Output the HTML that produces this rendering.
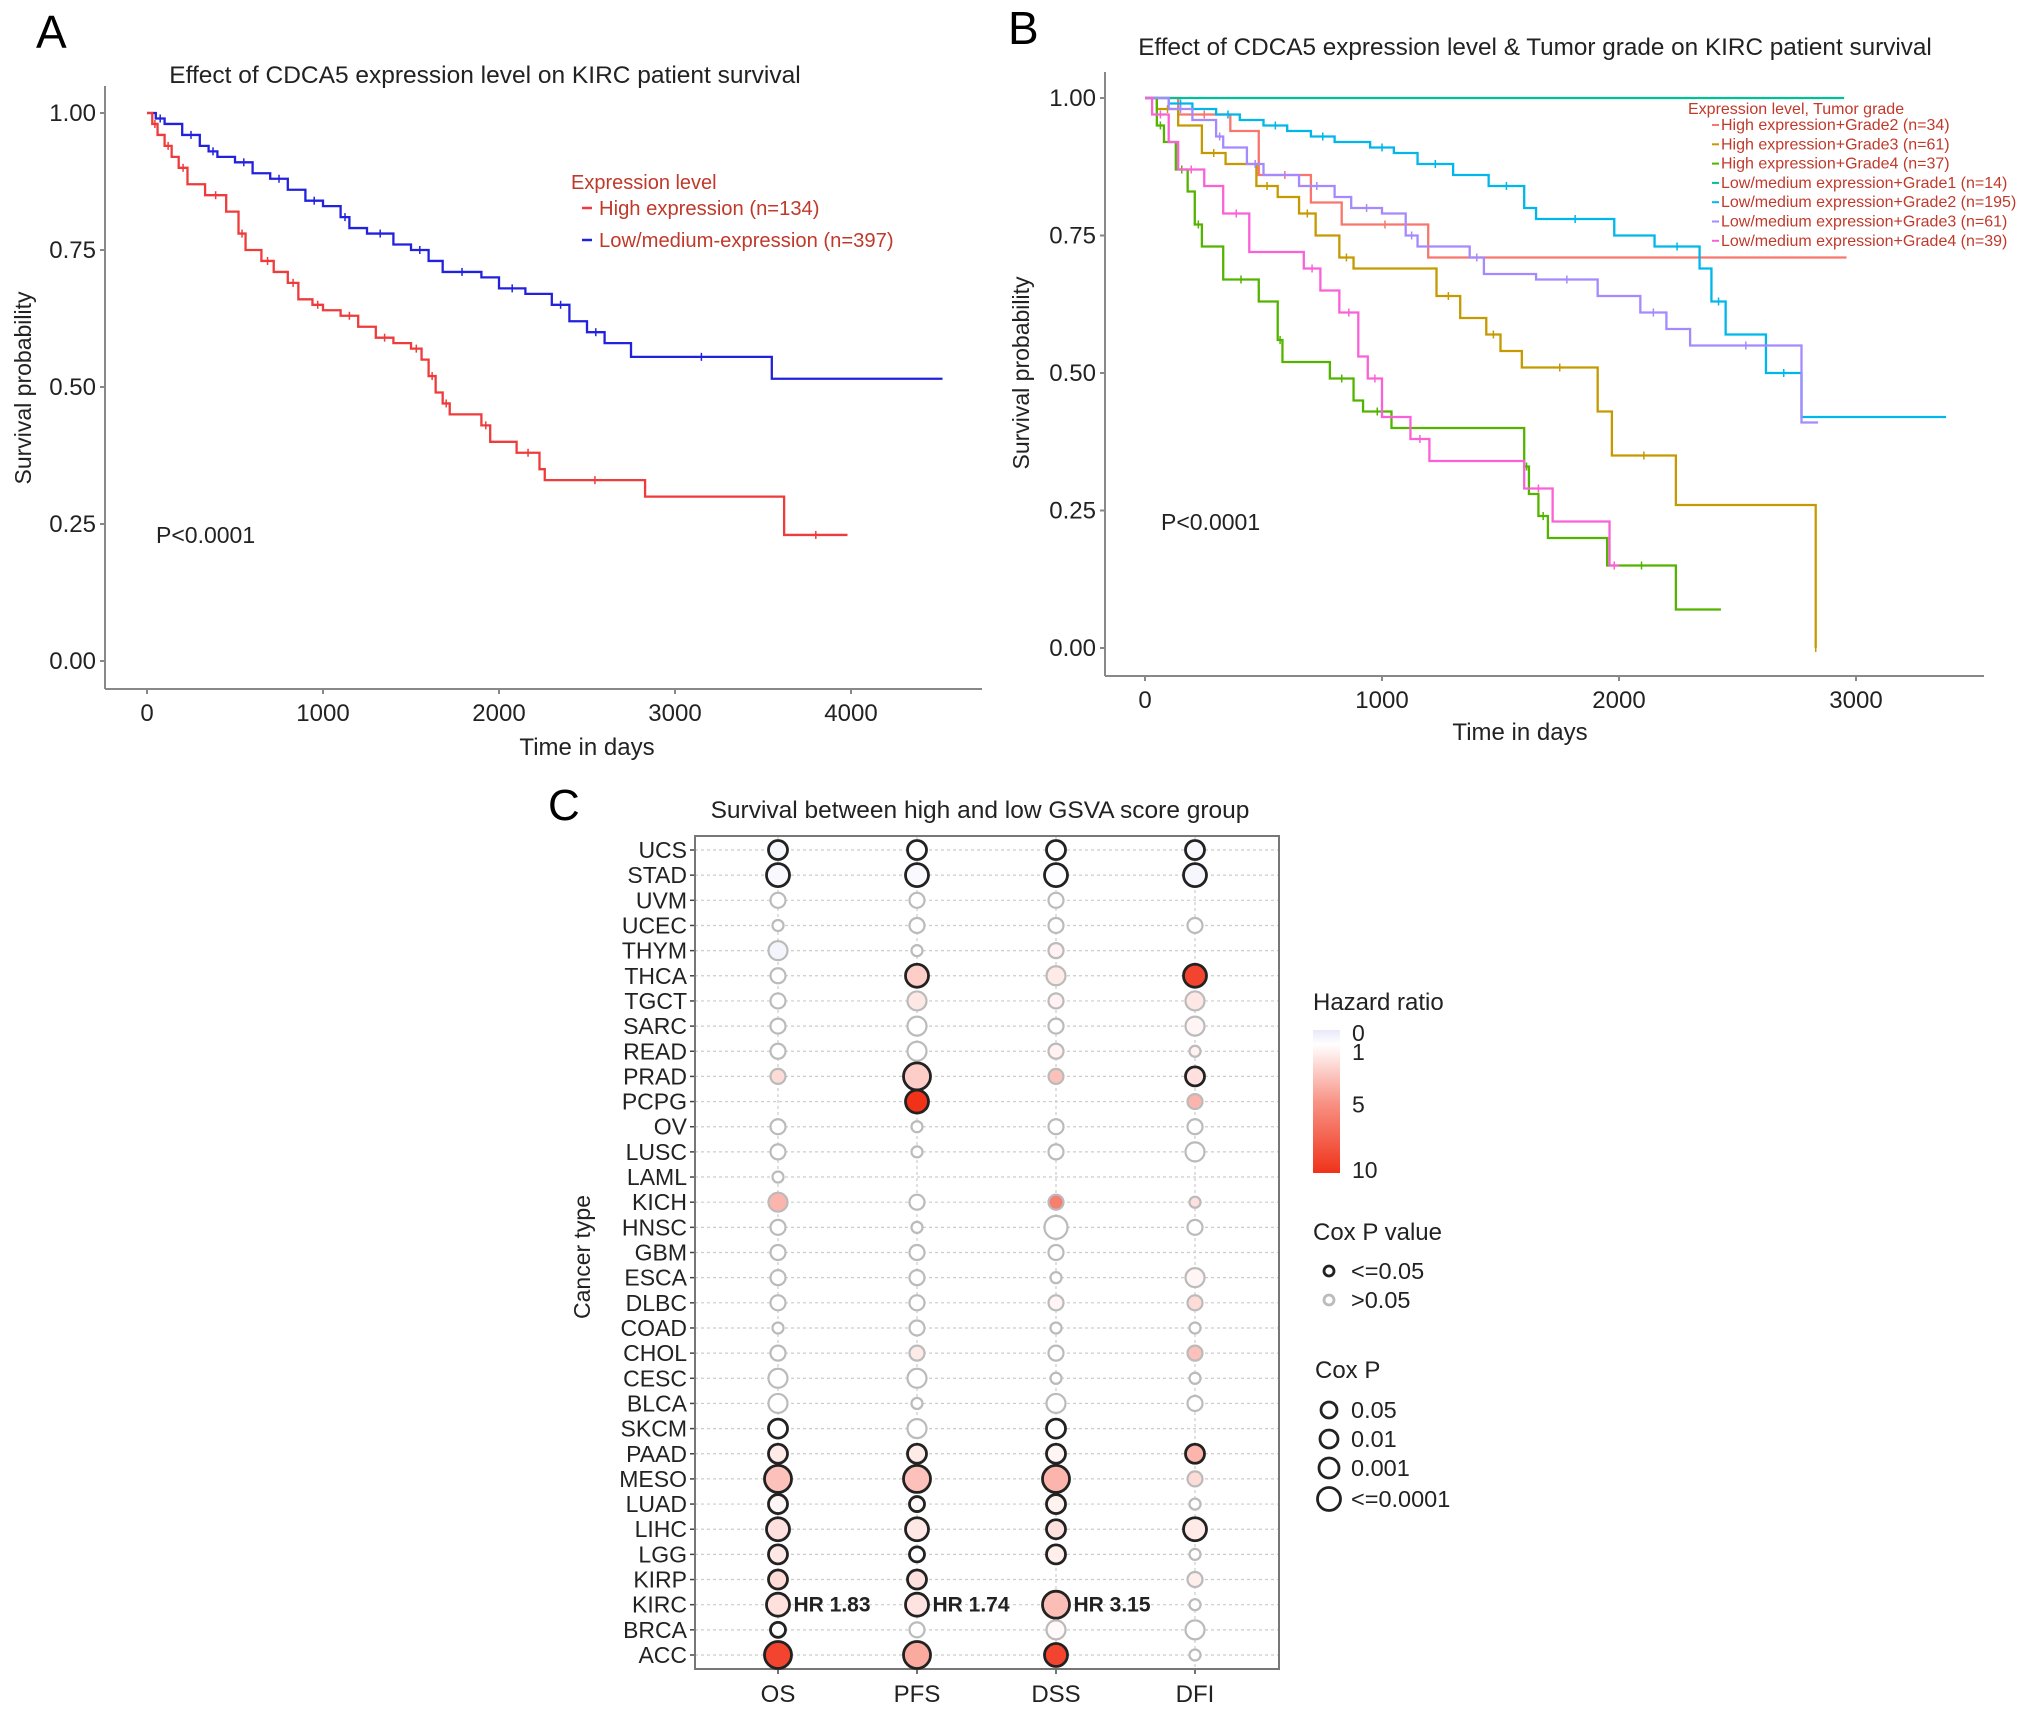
<!DOCTYPE html>
<html><head><meta charset="utf-8"><style>
body{margin:0;background:#fff;}
svg{display:block;font-family:"Liberation Sans",Arial,sans-serif;}
</style></head><body>
<svg id="fig" width="2032" height="1716" viewBox="0 0 2032 1716">
<rect width="2032" height="1716" fill="#fff"/>
<g id="pA">
<text x="36" y="48" font-size="46">A</text>
<text x="485" y="83" font-size="24.5" text-anchor="middle" fill="#222">Effect of CDCA5 expression level on KIRC patient survival</text>
<text x="587" y="755" font-size="24" text-anchor="middle" fill="#222">Time in days</text>
<text transform="translate(31,388) rotate(-90)" font-size="23" text-anchor="middle" fill="#222">Survival probability</text>
<text x="156" y="543" font-size="23" fill="#222">P&lt;0.0001</text>
<text x="571" y="189" font-size="20" fill="#c0392b">Expression level</text>
<line x1="582" y1="208" x2="592" y2="208" stroke="#f03b3b" stroke-width="2.5"/>
<text x="599" y="215" font-size="20.2" fill="#c0392b">High expression (n=134)</text>
<line x1="582" y1="240" x2="592" y2="240" stroke="#2020e0" stroke-width="2.5"/>
<text x="599" y="247" font-size="20.2" fill="#c0392b">Low/medium-expression (n=397)</text>
</g>
<g id="pB">
<text x="1008" y="44" font-size="46">B</text>
<text x="1535" y="55" font-size="24.3" text-anchor="middle" fill="#222">Effect of CDCA5 expression level &amp; Tumor grade on KIRC patient survival</text>
<text x="1520" y="740" font-size="24" text-anchor="middle" fill="#222">Time in days</text>
<text transform="translate(1029,373) rotate(-90)" font-size="23" text-anchor="middle" fill="#222">Survival probability</text>
<text x="1161" y="530" font-size="23" fill="#222">P&lt;0.0001</text>
<text x="1688" y="114" font-size="16" fill="#c0392b">Expression level, Tumor grade</text>
</g>
<g id="pC">
<text x="548" y="820" font-size="44">C</text>
<text x="980" y="818" font-size="24.5" text-anchor="middle" fill="#222">Survival between high and low GSVA score group</text>
<text transform="translate(590,1257) rotate(-90)" font-size="23" text-anchor="middle" fill="#222">Cancer type</text>
</g>
</svg>
<script>
// ---------- Panel A data ----------
const aHighT=[0,30,60,100,140,180,230,330,450,520,560,650,720,800,860,940,1000,1100,1200,1300,1400,1500,1560,1600,1640,1680,1720,1900,1950,2100,2230,2260,2830,3620,3980];
const aHighS=[1,0.98,0.96,0.94,0.92,0.9,0.87,0.85,0.82,0.78,0.75,0.73,0.71,0.69,0.66,0.65,0.64,0.63,0.61,0.59,0.58,0.57,0.55,0.52,0.49,0.47,0.45,0.43,0.40,0.38,0.35,0.33,0.30,0.23,0.23];
const aLowT=[0,50,100,200,300,350,400,500,600,700,800,900,1000,1100,1150,1250,1400,1500,1600,1680,1900,2000,2150,2300,2400,2500,2600,2750,3550,4520];
const aLowS=[1,0.99,0.98,0.96,0.94,0.93,0.92,0.91,0.89,0.88,0.86,0.84,0.83,0.81,0.79,0.78,0.76,0.75,0.73,0.71,0.70,0.68,0.67,0.65,0.62,0.60,0.58,0.555,0.515,0.515];
const aXTicks=[0,1000,2000,3000,4000];
const yTicks=[0,0.25,0.5,0.75,1];
const yTickLabels=["0.00","0.25","0.50","0.75","1.00"];
// ---------- Panel B data ----------
const bNames=["High expression+Grade2 (n=34)","High expression+Grade3 (n=61)","High expression+Grade4 (n=37)","Low/medium expression+Grade1 (n=14)","Low/medium expression+Grade2 (n=195)","Low/medium expression+Grade3 (n=61)","Low/medium expression+Grade4 (n=39)"];
const bColors=["#F8766D","#C49A00","#53B400","#00C094","#00B6EB","#A58AFF","#FB61D7"];
const bT0=[0,140,360,480,700,830,1195,2960];
const bS0=[1,0.97,0.94,0.86,0.81,0.77,0.71,0.71];
const bT1=[0,50,140,240,340,470,560,650,720,820,880,1230,1330,1440,1500,1590,1910,1970,2240,2830,2830];
const bS1=[1,0.98,0.95,0.9,0.88,0.84,0.82,0.79,0.75,0.71,0.69,0.64,0.6,0.57,0.54,0.51,0.43,0.35,0.26,0,0];
const bT2=[0,50,80,130,180,210,240,330,480,560,580,780,880,920,1040,1600,1620,1660,1700,1950,2240,2430];
const bS2=[1,0.95,0.92,0.87,0.83,0.77,0.73,0.67,0.63,0.56,0.52,0.49,0.45,0.43,0.40,0.33,0.28,0.24,0.2,0.15,0.07,0.07];
const bT3=[0,2950];
const bS3=[1,1];
const bT4=[0,100,200,300,400,500,600,700,800,950,1050,1150,1300,1450,1600,1650,1980,2150,2340,2390,2450,2620,2770,3380];
const bS4=[1,0.99,0.98,0.97,0.96,0.95,0.94,0.93,0.92,0.91,0.9,0.88,0.86,0.84,0.8,0.78,0.75,0.73,0.69,0.63,0.57,0.5,0.42,0.42];
const bT5=[0,100,200,300,330,430,500,650,800,870,1000,1100,1150,1370,1430,1650,1910,2090,2200,2300,2770,2840];
const bS5=[1,0.98,0.96,0.93,0.91,0.88,0.86,0.84,0.82,0.8,0.79,0.75,0.73,0.71,0.68,0.67,0.64,0.61,0.58,0.55,0.41,0.41];
const bT6=[0,30,100,140,250,330,440,670,740,820,900,940,1000,1120,1200,1600,1720,1960,2000];
const bS6=[1,0.97,0.92,0.87,0.84,0.79,0.72,0.69,0.65,0.61,0.53,0.49,0.42,0.38,0.34,0.29,0.23,0.15,0.15];
const bXTicks=[0,1000,2000,3000];
// ---------- Panel C data ----------
const cancers=["UCS","STAD","UVM","UCEC","THYM","THCA","TGCT","SARC","READ","PRAD","PCPG","OV","LUSC","LAML","KICH","HNSC","GBM","ESCA","DLBC","COAD","CHOL","CESC","BLCA","SKCM","PAAD","MESO","LUAD","LIHC","LGG","KIRP","KIRC","BRCA","ACC"];
const endpoints=["OS","PFS","DSS","DFI"];
const hrOS =[0.6,0.7,1,1,0.5,1,1,1,1,2,null,1,1,1,3.5,1,1,1,1,1,1,1,1,1,1.5,3,1.2,1.8,1.6,2,1.83,1,9];
const hrPFS=[1,0.8,1,1,1,2.5,1.6,1,1,2.5,10,1,1,null,1,1,1,1,1,1,1.5,1,1,1,1.5,3,1.1,1.6,1,1.8,1.74,1,4];
const hrDSS=[1,0.9,1,1,1.3,1.5,1.3,1,1.3,3,null,1,1,null,6,1,1,1,1.2,1,1,1,1,1,1.2,3.5,1.3,1.8,1.4,null,3.15,1.1,9];
const hrDFI=[0.7,0.6,null,1,null,9,1.6,1.2,1.3,1.8,3.5,1,1,null,1.8,1,null,1.2,2,1,3,1,1,null,3.5,2,1,1.5,1,1.4,1,1,1];
const sigOS =[1,1,0,0,0,0,0,0,0,0,0,0,0,0,0,0,0,0,0,0,0,0,0,1,1,1,1,1,1,1,1,1,1];
const sigPFS=[1,1,0,0,0,1,0,0,0,1,1,0,0,0,0,0,0,0,0,0,0,0,0,0,1,1,1,1,1,1,1,0,1];
const sigDSS=[1,1,0,0,0,0,0,0,0,0,0,0,0,0,0,0,0,0,0,0,0,0,0,1,1,1,1,1,1,0,1,0,1];
const sigDFI=[1,1,0,0,0,1,0,0,0,1,0,0,0,0,0,0,0,0,0,0,0,0,0,0,1,0,0,1,0,0,0,0,0];
const szOS =[3,4,2,1,3,2,2,2,2,2,0,2,2,1,3,2,2,2,2,1,2,3,3,3,3,5,3,4,3,3,4,2,5];
const szPFS=[3,4,2,2,1,4,3,3,3,5,4,1,1,0,2,1,2,2,2,2,2,3,1,3,3,5,2,4,2,3,4,2,5];
const szDSS=[3,4,2,2,2,3,2,2,2,2,0,2,2,0,2,4,2,1,2,1,2,1,3,3,3,5,3,3,3,0,5,3,4];
const szDFI=[3,4,0,2,0,4,3,3,1,3,2,2,3,0,1,2,0,3,2,1,2,1,2,0,3,2,1,4,1,2,1,3,1];
const hrLabels=[["OS","KIRC","HR 1.83"],["PFS","KIRC","HR 1.74"],["DSS","KIRC","HR 3.15"]];
const hrLegendTicks=[0,1,5,10];

const NS="http://www.w3.org/2000/svg";
function mk(tag,attrs,parent){const e=document.createElementNS(NS,tag);for(const k in attrs)e.setAttribute(k,attrs[k]);parent.appendChild(e);return e;}

function kmPanel(g,cfg){
  const sx=t=>cfg.x0+t*cfg.pxPerDay, sy=s=>cfg.y0-s*(cfg.y0-cfg.y1);
  let l=mk('line',{x1:cfg.axL,y1:cfg.axT,x2:cfg.axL,y2:cfg.axB,stroke:'#888','stroke-width':2},g);
  
  
  l=mk('line',{x1:cfg.axL,y1:cfg.axB,x2:cfg.axR,y2:cfg.axB,stroke:'#888','stroke-width':2},g);
  
  
  yTicks.forEach((v,i)=>{
    const y=sy(v);
    const tk=mk('line',{x1:cfg.axL-5,y1:y,x2:cfg.axL,y2:y,stroke:'#888','stroke-width':2},g);
    
    
    const t=mk('text',{x:cfg.axL-9,y:y+8,'font-size':24,'text-anchor':'end',fill:'#222'},g);
    t.textContent=yTickLabels[i];
    
    
  });
  cfg.xTicks.forEach(v=>{
    const x=sx(v);
    const tk=mk('line',{x1:x,y1:cfg.axB,x2:x,y2:cfg.axB+5,stroke:'#888','stroke-width':2},g);
    
    
    const t=mk('text',{x:x,y:cfg.axB+32,'font-size':24,'text-anchor':'middle',fill:'#222'},g);
    t.textContent=String(v);
    
    
  });
  cfg.series.forEach((s,k)=>{
    let d='M'+sx(s.t[0])+','+sy(s.s[0]);
    for(let i=1;i<s.t.length;i++){d+=' H'+sx(s.t[i])+' V'+sy(s.s[i]);}
    const p=mk('path',{d:d,fill:'none',stroke:s.c,'stroke-width':2.3},g);
    
    
    for(let i=1;i<s.t.length-1;i+=2){
      const mx=(sx(s.t[i])+sx(s.t[i+1]))/2, my=sy(s.s[i]);
      const m=mk('line',{x1:mx,y1:my-4,x2:mx,y2:my+4,stroke:s.c,'stroke-width':1.5},g);
      
      
    }
  });
}
kmPanel(document.getElementById('pA'),{x0:147,pxPerDay:176/1000,y0:661,y1:113,axL:105,axR:982,axT:86,axB:689,xTicks:aXTicks,
  series:[{t:aLowT,s:aLowS,c:'#2222dd',name:'low-expression-curve'},{t:aHighT,s:aHighS,c:'#ee3b3b',name:'high-expression-curve'}]});
const bSeriesT=[bT0,bT1,bT2,bT3,bT4,bT5,bT6], bSeriesS=[bS0,bS1,bS2,bS3,bS4,bS5,bS6];
const gB=document.getElementById('pB');
kmPanel(gB,{x0:1145,pxPerDay:237/1000,y0:648,y1:98,axL:1105,axR:1984,axT:72,axB:676,xTicks:bXTicks,
  series:bSeriesT.map((t,i)=>({t:t,s:bSeriesS[i],c:bColors[i],name:'km-curve-'+(i+1)}))});
bNames.forEach((n,i)=>{
  const y=130+i*19.3;
  const sw=mk('line',{x1:1712,y1:y-5,x2:1719,y2:y-5,stroke:bColors[i],'stroke-width':2},gB);
  
  
  const t=mk('text',{x:1721,y:y,'font-size':16,fill:'#c0392b'},gB);
  t.textContent=n;
  
  
});

// ---------- Panel C ----------
const gC=document.getElementById('pC');
const boxL=695,boxR=1279,boxT=836,boxB=1669;
const colX=e=>778+endpoints.indexOf(e)*139;
const rowY=c=>850+cancers.indexOf(c)*(1655-850)/(cancers.length-1);
const radius=[0,5.5,7.5,9.5,11.5,13.5];
function hrColor(h){
  if(h<1){const f=h;return `rgb(${Math.round(232+23*f)},${Math.round(232+23*f)},${Math.round(250+5*f)})`;}
  const f=Math.min(1,(h-1)/9);
  const r=Math.round(255-(255-240)*f), gg=Math.round(255-(255-50)*Math.pow(f,0.8)), b=Math.round(255-(255-25)*Math.pow(f,0.8));
  return `rgb(${r},${gg},${b})`;
}
cancers.forEach(c=>{
  const y=rowY(c);
  const gl=mk('line',{x1:boxL,y1:y,x2:boxR,y2:y,stroke:'#ccc','stroke-width':1.2,'stroke-dasharray':'3,3'},gC);
  
  
  const tk=mk('line',{x1:boxL-5,y1:y,x2:boxL,y2:y,stroke:'#444','stroke-width':1.5},gC);
  
  
  const t=mk('text',{x:boxL-8,y:y+8,'font-size':23,'text-anchor':'end',fill:'#222'},gC);
  t.textContent=c;
  
  
});
endpoints.forEach(e=>{
  const x=colX(e);
  const gl=mk('line',{x1:x,y1:boxT,x2:x,y2:boxB,stroke:'#ccc','stroke-width':1.2,'stroke-dasharray':'3,3'},gC);
  
  
  const tk=mk('line',{x1:x,y1:boxB,x2:x,y2:boxB+5,stroke:'#444','stroke-width':1.5},gC);
  
  
  const t=mk('text',{x:x,y:boxB+33,'font-size':24,'text-anchor':'middle',fill:'#222'},gC);
  t.textContent=e;
  
  
});
const box=mk('rect',{x:boxL,y:boxT,width:boxR-boxL,height:boxB-boxT,fill:'none',stroke:'#777','stroke-width':2},gC);


const HR=[hrOS,hrPFS,hrDSS,hrDFI], SIG=[sigOS,sigPFS,sigDSS,sigDFI], SZ=[szOS,szPFS,szDSS,szDFI];
endpoints.forEach((e,j)=>{
  cancers.forEach((c,i)=>{
    const h=HR[j][i]; if(h===null||SZ[j][i]===0) return;
    const sig=SIG[j][i];
    const ci=mk('circle',{cx:colX(e),cy:rowY(c),r:radius[SZ[j][i]],fill:hrColor(h),stroke:sig?'#222':'#bbb','stroke-width':sig?2.8:2.2},gC);
    
    
  });
});
hrLabels.forEach(h=>{
  const j=endpoints.indexOf(h[0]), i=cancers.indexOf(h[1]);
  const t=mk('text',{x:colX(h[0])+radius[SZ[j][i]]+4,y:rowY(h[1])+7,'font-size':21,'font-weight':'bold',fill:'#222'},gC);
  t.textContent=h[2];
  
  
});
let t=mk('text',{x:1313,y:1010,'font-size':24,fill:'#222'},gC);
t.textContent='Hazard ratio';


const defs=mk('defs',{},gC);
const lg=mk('linearGradient',{id:'hrg',x1:0,y1:0,x2:0,y2:1},defs);
[[0,0],[0.1,1],[0.5,5],[1,10]].forEach(s=>{mk('stop',{offset:s[0],'stop-color':hrColor(s[1])},lg);});
const cb=mk('rect',{x:1313,y:1030,width:27,height:143,fill:'url(#hrg)'},gC);


const cbY=v=>v===0?1033:(v===1?1052:1052+(v-1)/9*118);
hrLegendTicks.forEach(v=>{
  const tt=mk('text',{x:1352,y:cbY(v)+8,'font-size':23,fill:'#222'},gC);
  tt.textContent=String(v);
  
  
});
t=mk('text',{x:1313,y:1240,'font-size':24,fill:'#222'},gC);
t.textContent='Cox P value';


[['<=0.05','#222',1271],['>0.05','#bbb',1300]].forEach(d=>{
  const c=mk('circle',{cx:1329,cy:d[2],r:5,fill:'#fff',stroke:d[1],'stroke-width':2.8},gC);
  
  
  const tt=mk('text',{x:1351,y:d[2]+8,'font-size':23.5,fill:'#222'},gC);
  tt.textContent=d[0];
  
  
});
t=mk('text',{x:1315,y:1378,'font-size':24,fill:'#222'},gC);
t.textContent='Cox P';


[['0.05',1410,8],['0.01',1439,9],['0.001',1468,10],['<=0.0001',1499,11.5]].forEach(d=>{
  const c=mk('circle',{cx:1329,cy:d[1],r:d[2],fill:'#fff',stroke:'#222','stroke-width':2.8},gC);
  
  
  const tt=mk('text',{x:1351,y:d[1]+8,'font-size':23.5,fill:'#222'},gC);
  tt.textContent=d[0];
  
  
});
</script>
</body></html>
